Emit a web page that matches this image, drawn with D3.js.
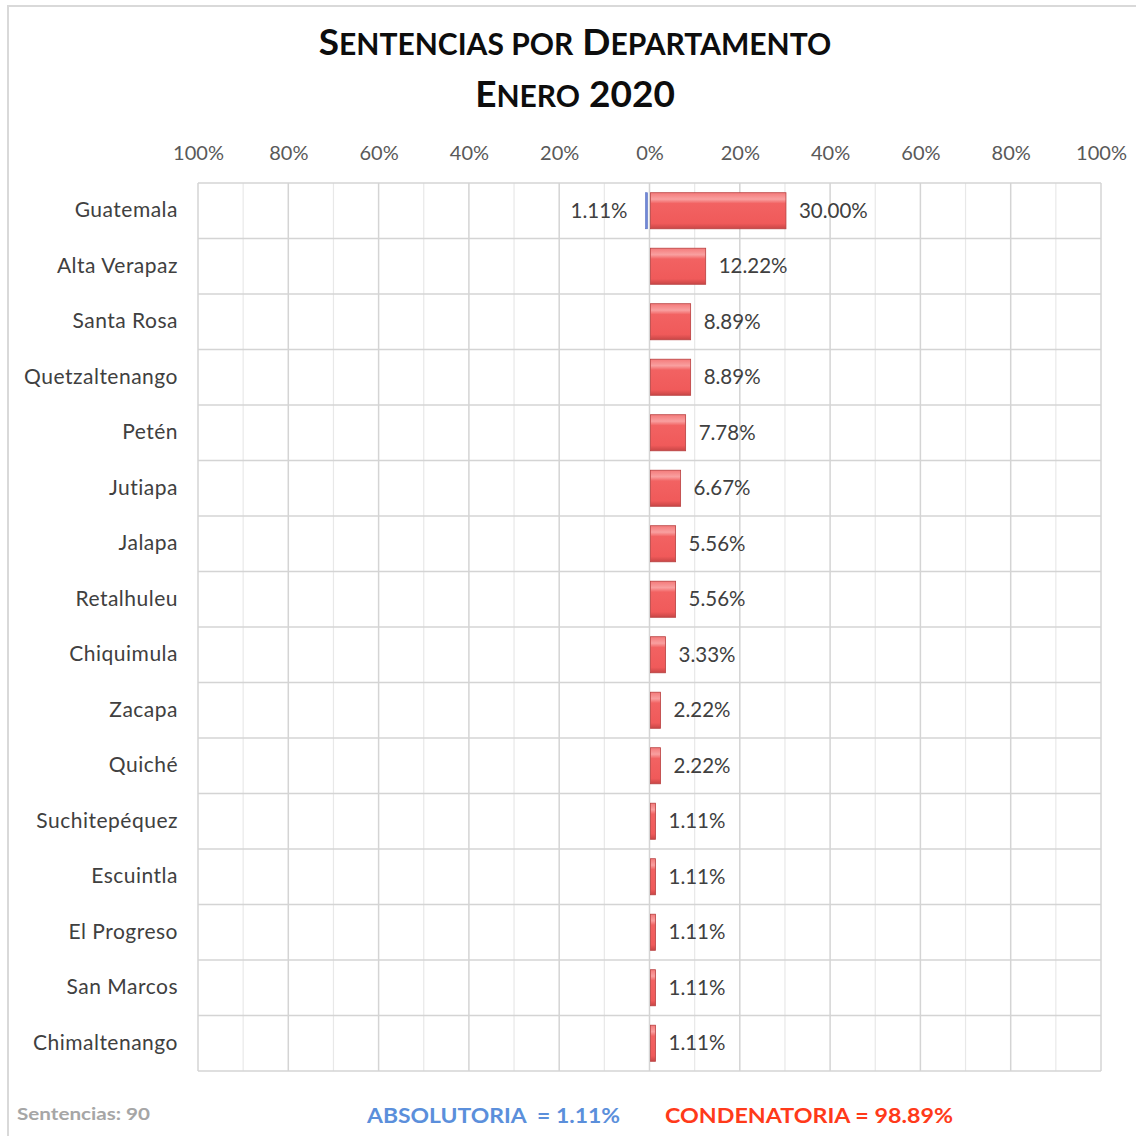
<!DOCTYPE html>
<html>
<head>
<meta charset="utf-8">
<script src="https://cdn.jsdelivr.net/npm/d3@7"></script>
<style>
  body { margin: 0; background: #fff; }
  svg text { font-family: Lato, "Open Sans", sans-serif; }
</style>
</head>
<body>
<svg width="1136" height="1136"></svg>
<script>
// departamentos, de arriba a abajo
const categories = ["Guatemala", "Alta Verapaz", "Santa Rosa", "Quetzaltenango", "Petén", "Jutiapa",
  "Jalapa", "Retalhuleu", "Chiquimula", "Zacapa", "Quiché", "Suchitepéquez", "Escuintla",
  "El Progreso", "San Marcos", "Chimaltenango"]
// porcentajes
const condenatoria = [30.00, 12.22, 8.89, 8.89, 7.78, 6.67, 5.56, 5.56, 3.33, 2.22, 2.22, 1.11, 1.11, 1.11, 1.11, 1.11]
const absolutoria = [1.11, 0, 0, 0, 0, 0, 0, 0, 0, 0, 0, 0, 0, 0, 0, 0]
const tickValues = [-100, -80, -60, -40, -20, 0, 20, 40, 60, 80, 100]
const gridValues = d3.range(-100, 101, 10)

const svg = d3.select("svg")

// outer chart border
svg.append("rect")
  .attr("x", 8).attr("y", 6).attr("width", 1140).attr("height", 1140)
  .attr("fill", "none").attr("stroke", "#d9d9d9").attr("stroke-width", 2)

const defs = svg.append("defs")
const grad = defs.append("linearGradient").attr("id", "redg").attr("x1", 0).attr("y1", 0).attr("x2", 0).attr("y2", 1)
grad.append("stop").attr("offset", "0%").attr("stop-color", "#f47a7a")
grad.append("stop").attr("offset", "18%").attr("stop-color", "#f9a0a0")
grad.append("stop").attr("offset", "30%").attr("stop-color", "#f26262")
grad.append("stop").attr("offset", "85%").attr("stop-color", "#f05a5a")
grad.append("stop").attr("offset", "100%").attr("stop-color", "#c84646")

const x = d3.scaleLinear().domain([-100, 100]).range([198, 1101])
const y = d3.scaleBand().domain(categories).range([183, 1071]).paddingInner(0.35).paddingOuter(0.175)

// grid
const grid = svg.append("g")
grid.selectAll("line.v")
  .data(gridValues)
  .enter()
  .append("line")
  .attr("x1", d => x(d)).attr("x2", d => x(d))
  .attr("y1", 183).attr("y2", 1071)
  .attr("stroke", d => d % 20 == 0 ? "#d4d4d4" : "#e8e8e8")
  .attr("stroke-width", d => d % 20 == 0 ? 1.5 : 1.2)

grid.selectAll("line.h")
  .data(d3.range(categories.length + 1))
  .enter()
  .append("line")
  .attr("x1", 198).attr("x2", 1101)
  .attr("y1", i => 183 + i * y.step()).attr("y2", i => 183 + i * y.step())
  .attr("stroke", "#d4d4d4").attr("stroke-width", 1.5)

// top axis
const xAxis = d3.axisTop(x)
  .tickValues(tickValues)
  .tickSize(0)
  .tickFormat(d => Math.abs(d) + "%")

svg.append("g")
  .attr("transform", "translate(0,163)")
  .call(xAxis)
  .call(g => g.select(".domain").remove())
  .selectAll("text")
  .attr("font-size", 20)
  .attr("fill", "#595959")
  .style("font-family", "Lato, sans-serif")

// category labels
svg.append("g")
  .selectAll("text")
  .data(categories)
  .enter()
  .append("text")
  .attr("x", 178)
  .attr("y", d => y(d) + y.bandwidth() / 2)
  .attr("dy", "0.3em")
  .attr("text-anchor", "end")
  .attr("font-size", 21)
  .attr("letter-spacing", 0.5)
  .attr("fill", "#404040")
  .text(d => d)

// condenatoria bars
svg.append("g")
  .selectAll("rect")
  .data(condenatoria)
  .enter()
  .append("rect")
  .attr("x", x(0) + 1)
  .attr("y", (d, i) => y(categories[i]))
  .attr("width", d => x(d) - x(0))
  .attr("height", y.bandwidth())
  .attr("fill", "url(#redg)")
  .attr("stroke", "#b84040")
  .attr("stroke-width", 0.8)

svg.append("g")
  .selectAll("text")
  .data(condenatoria)
  .enter()
  .append("text")
  .attr("x", d => x(d) + 14)
  .attr("y", (d, i) => y(categories[i]) + y.bandwidth() / 2)
  .attr("dy", "0.35em")
  .attr("font-size", 20.5)
  .attr("fill", "#404040")
  .text(d => d.toFixed(2) + "%")

// absolutoria bars
const absData = absolutoria.map((v, i) => ({ v: v, c: categories[i] })).filter(d => d.v > 0)
svg.append("g")
  .selectAll("rect")
  .data(absData)
  .enter()
  .append("rect")
  .attr("x", d => x(-d.v) + 1)
  .attr("y", d => y(d.c))
  .attr("width", d => x(0) - x(-d.v) - 3)
  .attr("height", y.bandwidth())
  .attr("fill", "#7088d8")
  .attr("stroke", "#5a70c0")
  .attr("stroke-width", 0.6)

svg.append("g")
  .selectAll("text")
  .data(absData)
  .enter()
  .append("text")
  .attr("x", d => x(-d.v) - 17)
  .attr("y", d => y(d.c) + y.bandwidth() / 2)
  .attr("dy", "0.35em")
  .attr("text-anchor", "end")
  .attr("font-size", 20.5)
  .attr("fill", "#404040")
  .text(d => d.v.toFixed(2) + "%")

// title, small caps built by hand (initials big, rest smaller)
const titleLines = [["Sentencias", "por", "Departamento"], ["Enero", "2020"]]
const title = svg.append("g")
  .attr("font-weight", "bold")
  .attr("fill", "#0d0d0d")
titleLines.forEach((words, li) => {
  const t = title.append("text")
    .attr("x", 575).attr("y", 55 + li * 52)
    .attr("text-anchor", "middle")
  words.forEach((w, wi) => {
    const isNum = /^\d+$/.test(w)
    const first = w[0]
    const big = isNum || first === first.toUpperCase()
    const sp = wi > 0 ? "\u00a0" : ""
    t.append("tspan").attr("font-size", big ? 37 : 30).text(sp + (isNum ? w : first.toUpperCase()))
    if (!isNum) t.append("tspan").attr("font-size", 30).text(w.slice(1).toUpperCase())
  })
})

// footer
svg.append("text").attr("x", 17).attr("y", 1120)
  .attr("font-size", 17).attr("font-weight", "bold").attr("fill", "#a6a6a6")
  .attr("textLength", 133).attr("lengthAdjust", "spacingAndGlyphs")
  .text("Sentencias: 90")
svg.append("text").attr("x", 367).attr("y", 1123)
  .attr("font-size", 21).attr("font-weight", "bold").attr("fill", "#5b8fdb")
  .attr("textLength", 253).attr("lengthAdjust", "spacingAndGlyphs")
  .text("ABSOLUTORIA \u00a0= 1.11%")
svg.append("text").attr("x", 665).attr("y", 1123)
  .attr("font-size", 21).attr("font-weight", "bold").attr("fill", "#ff3a1a")
  .attr("textLength", 288).attr("lengthAdjust", "spacingAndGlyphs")
  .text("CONDENATORIA = 98.89%")
</script>
</body>
</html>
